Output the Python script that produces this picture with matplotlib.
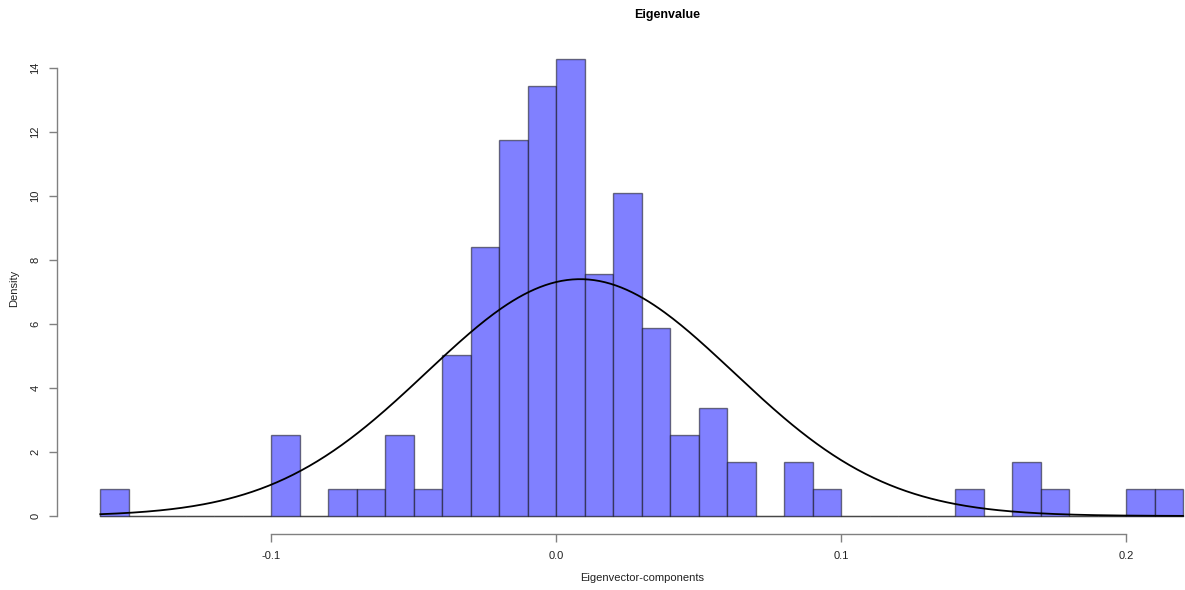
import numpy as np
import matplotlib.pyplot as plt

plt.rcParams['font.family'] = ['Liberation Sans', 'DejaVu Sans']

# histogram bins (width 0.01) and density
bin_left = np.round(np.arange(-0.16, 0.22, 0.01), 2)
density = [0.84, 0, 0, 0, 0, 0, 2.52, 0, 0.84, 0.84,
           2.52, 0.84, 5.04, 8.40, 11.76, 13.45, 14.29, 7.56, 10.08, 5.88,
           2.52, 3.36, 1.68, 0, 1.68, 0.84, 0, 0, 0, 0,
           0.84, 0, 1.68, 0.84, 0, 0, 0.84, 0.84]
bin_width = 0.01

# normal curve fitted to the components
curve_mean = 0.0084
curve_sd = 0.0539

xticks = [-0.1, 0.0, 0.1, 0.2]
xtick_labels = ['-0.1', '0.0', '0.1', '0.2']
yticks = [0, 2, 4, 6, 8, 10, 12, 14]

W, H = 1185, 590
fig = plt.figure(figsize=(W / 100, H / 100), dpi=100)
ax = fig.add_axes([57 / W, (H - 534) / H, (W - 57) / W, (534 - 40.5) / H])

edge = (0, 0, 0, 0.5)
ax.bar(bin_left, density, width=bin_width, align='edge',
       color='#8080ff', edgecolor=edge, linewidth=1.0, zorder=2)
# zero-height bins drawn as a baseline, like R does
ax.plot([bin_left[0], bin_left[-1] + bin_width], [0, 0], color='#909090', lw=1.0, zorder=1)

xs = np.linspace(bin_left[0], bin_left[-1] + bin_width, 400)
ys = np.exp(-(xs - curve_mean) ** 2 / (2 * curve_sd ** 2)) / (curve_sd * np.sqrt(2 * np.pi))
ax.plot(xs, ys, color='black', lw=1.3, zorder=3)

ax.set_xlim(-0.1752, 0.2207)
ax.set_ylim(-0.5625, 14.86)

for s in ['top', 'right']:
    ax.spines[s].set_visible(False)
ax.spines['left'].set_bounds(0, 14)
ax.spines['bottom'].set_bounds(-0.1, 0.2)
for s in ['left', 'bottom']:
    ax.spines[s].set_color('#808080')
    ax.spines[s].set_linewidth(1.0)

ax.set_xticks(xticks)
ax.set_xticklabels(xtick_labels)
ax.set_yticks(yticks)
ax.set_yticklabels([str(v) for v in yticks], rotation=90, va='center')
ax.tick_params(axis='both', colors='#808080', length=6, width=1.0, labelsize=8,
               labelcolor='#222222')
ax.tick_params(axis='x', pad=6)
ax.tick_params(axis='y', pad=6)

fig.text(667 / W, 1 - 15 / H, 'Eigenvalue', ha='center', va='center',
         fontsize=9, fontweight='bold')
fig.text(642 / W, 1 - 578 / H, 'Eigenvector-components', ha='center', va='center',
         fontsize=8, color='#222222')
fig.text(14 / W, 1 - 288 / H, 'Density', ha='center', va='center',
         fontsize=8, rotation=90, color='#222222')

fig.savefig('out.png', dpi=100)
